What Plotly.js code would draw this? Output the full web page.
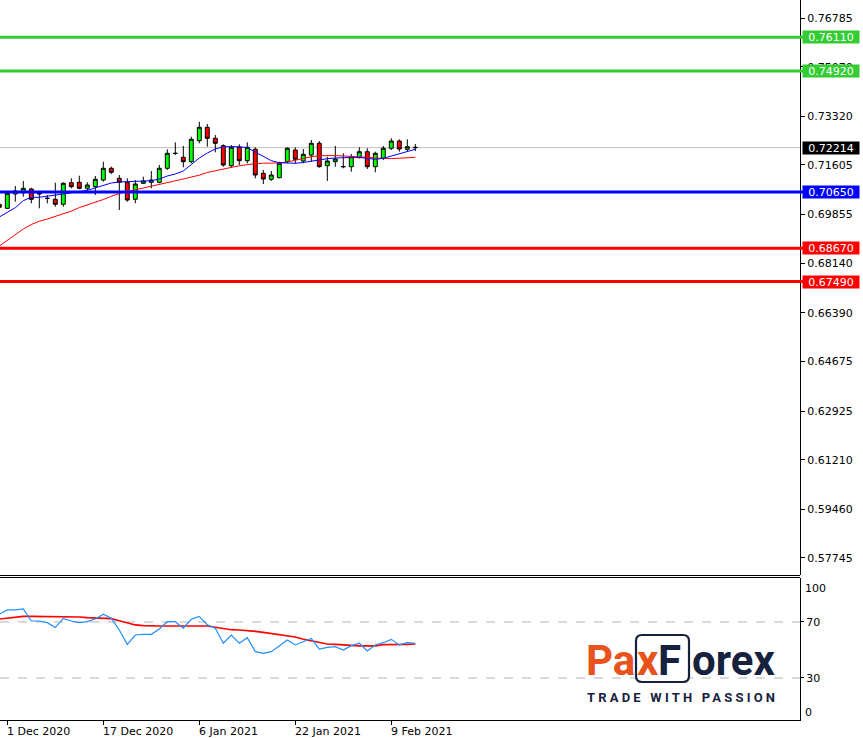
<!DOCTYPE html>
<html><head><meta charset="utf-8">
<script src="https://cdn.plot.ly/plotly-3.0.1.min.js"></script>
<style>html,body{margin:0;padding:0;background:#fff;overflow:hidden}#chart{width:863px;height:738px}</style>
</head><body><div id="chart"></div>
<script>
// ---------- DATA ----------
const dates = ["30 Nov 2020","1 Dec 2020","2 Dec 2020","3 Dec 2020","4 Dec 2020","7 Dec 2020","8 Dec 2020","9 Dec 2020","10 Dec 2020","11 Dec 2020","14 Dec 2020","15 Dec 2020","16 Dec 2020","17 Dec 2020","18 Dec 2020","21 Dec 2020","22 Dec 2020","23 Dec 2020","24 Dec 2020","28 Dec 2020","29 Dec 2020","30 Dec 2020","31 Dec 2020","4 Jan 2021","5 Jan 2021","6 Jan 2021","7 Jan 2021","8 Jan 2021","11 Jan 2021","12 Jan 2021","13 Jan 2021","14 Jan 2021","15 Jan 2021","18 Jan 2021","19 Jan 2021","20 Jan 2021","21 Jan 2021","22 Jan 2021","25 Jan 2021","26 Jan 2021","27 Jan 2021","28 Jan 2021","29 Jan 2021","1 Feb 2021","2 Feb 2021","3 Feb 2021","4 Feb 2021","5 Feb 2021","8 Feb 2021","9 Feb 2021","10 Feb 2021","11 Feb 2021","12 Feb 2021"];
const openP = [0.70216,0.70075,0.70579,0.70625,0.70756,0.70579,0.70421,0.70392,0.70216,0.70978,0.70992,0.70780,0.70837,0.71073,0.71486,0.71133,0.70992,0.70392,0.70957,0.70992,0.70992,0.71486,0.72007,0.71873,0.71718,0.72459,0.72931,0.72543,0.72283,0.71577,0.72226,0.71754,0.72156,0.71309,0.71098,0.71154,0.71718,0.72131,0.71743,0.71955,0.72367,0.71577,0.71718,0.71549,0.71542,0.71859,0.72071,0.71542,0.71838,0.72191,0.72448,0.72156,0.72226];
const highP = [0.70368,0.70685,0.70861,0.71038,0.70802,0.70639,0.70544,0.70978,0.70992,0.71133,0.71225,0.70992,0.71214,0.71718,0.71542,0.71249,0.71133,0.71073,0.71189,0.71390,0.71602,0.72156,0.72402,0.72272,0.72600,0.73129,0.73048,0.72660,0.72332,0.72307,0.72332,0.72402,0.72226,0.71426,0.71390,0.71718,0.72226,0.72226,0.72166,0.72483,0.72448,0.71895,0.72272,0.72015,0.71990,0.72226,0.72191,0.72071,0.72272,0.72543,0.72508,0.72508,0.72342];
const lowP = [0.70015,0.70050,0.70308,0.70484,0.70251,0.70075,0.70251,0.70132,0.70132,0.70780,0.70745,0.70696,0.70544,0.71013,0.71285,0.70015,0.70308,0.70251,0.70932,0.70780,0.70957,0.71426,0.71955,0.71521,0.71662,0.72367,0.72247,0.72050,0.71542,0.71507,0.71602,0.71662,0.71133,0.70932,0.71038,0.71133,0.71662,0.71662,0.71662,0.71718,0.71507,0.71038,0.71542,0.71486,0.71366,0.71838,0.71461,0.71345,0.71778,0.72131,0.72071,0.72096,0.72096];
const closeP = [0.70110,0.70604,0.70685,0.70780,0.70392,0.70597,0.70428,0.70216,0.70957,0.70837,0.70780,0.70897,0.71098,0.71486,0.71345,0.70992,0.70368,0.70932,0.71038,0.71073,0.71486,0.72015,0.72015,0.71718,0.72508,0.72931,0.72543,0.72367,0.71602,0.72226,0.71754,0.72226,0.71249,0.71108,0.71249,0.71662,0.72191,0.71803,0.71979,0.72367,0.71542,0.71743,0.71813,0.71542,0.71895,0.72071,0.71542,0.72015,0.72191,0.72448,0.72166,0.72247,0.72214];
const maFast = [0.69768,0.69934,0.70096,0.70343,0.70463,0.70463,0.70498,0.70544,0.70590,0.70615,0.70660,0.70710,0.70802,0.70897,0.70967,0.71003,0.71013,0.71013,0.71013,0.71048,0.71108,0.71214,0.71285,0.71390,0.71620,0.71849,0.72025,0.72166,0.72247,0.72247,0.72247,0.72212,0.72060,0.71895,0.71754,0.71683,0.71683,0.71662,0.71690,0.71743,0.71778,0.71824,0.71849,0.71863,0.71873,0.71873,0.71835,0.71803,0.71838,0.71919,0.72011,0.72082,0.72156];
const maSlow = [0.68746,0.68947,0.69155,0.69345,0.69504,0.69620,0.69698,0.69786,0.69874,0.69976,0.70100,0.70192,0.70287,0.70385,0.70498,0.70597,0.70664,0.70724,0.70784,0.70847,0.70914,0.70988,0.71045,0.71108,0.71179,0.71242,0.71338,0.71390,0.71454,0.71517,0.71574,0.71623,0.71651,0.71665,0.71672,0.71672,0.71708,0.71778,0.71831,0.71895,0.71933,0.71944,0.71933,0.71919,0.71909,0.71895,0.71873,0.71849,0.71831,0.71828,0.71842,0.71856,0.71873];
const rsi = [75.5,78.6,78.6,79.3,70.7,70.7,69.5,66.0,72.6,70.7,69.5,70.2,72.1,75.5,72.6,64.3,54.0,60.7,61.2,61.2,65.0,70.2,70.2,65.5,71.9,74.0,67.9,65.5,54.8,60.7,54.8,58.8,48.8,47.6,48.8,52.9,57.1,53.6,56.0,58.3,50.7,51.9,52.4,50.0,53.1,54.8,49.3,53.6,55.2,57.6,53.6,55.2,54.8];
const rsiSignal = [72.1,72.9,73.6,74.0,74.0,74.0,74.0,73.6,74.0,74.0,73.6,73.1,72.9,72.9,72.4,70.9,69.5,67.9,67.4,67.1,67.1,67.1,67.1,67.1,67.1,67.1,67.1,66.2,65.2,64.5,64.3,64.0,63.3,62.6,61.7,61.0,60.0,59.3,57.6,56.4,55.2,54.3,54.0,53.6,52.9,52.9,52.9,52.9,53.8,53.8,53.6,54.0,54.3];
const priceTicks = [0.76785,0.75070,0.73320,0.71605,0.69855,0.68140,0.66390,0.64675,0.62925,0.61210,0.59460,0.57745];
const levels = [0.76110,0.74920,0.70650,0.68670,0.67490];
const levelColors = ["#33cc33","#33cc33","#0000ff","#ff0000","#ff0000"];
const lastPrice = 0.72214;
const dateTickVals = ["1 Dec 2020","17 Dec 2020","6 Jan 2021","22 Jan 2021","9 Feb 2021"];
const oscTicks = [30,70];
const oscEdgeLabels = ["100","0"];

// ---------- LAYOUT HELPERS ----------
const W = 863, H = 738;
const fx = p => p / W;
const fy = p => 1 - p / H;
const plotRight = 800;
const FONT = "DejaVu Sans";
const NAVY = "#16213e", ORANGE = "#e8521c";

const traces = [
  {type:"candlestick", x:dates, open:openP, high:highP, low:lowP, close:closeP,
   xaxis:"x", yaxis:"y", whiskerwidth:0, hoverinfo:"skip", showlegend:false,
   increasing:{line:{color:"#000",width:1}, fillcolor:"#00ff00"},
   decreasing:{line:{color:"#000",width:1}, fillcolor:"#ff0000"}},
  {type:"scatter", mode:"lines", x:dates, y:maSlow, xaxis:"x", yaxis:"y",
   line:{color:"#ff0000", width:1}, hoverinfo:"skip", showlegend:false},
  {type:"scatter", mode:"lines", x:dates, y:maFast, xaxis:"x", yaxis:"y",
   line:{color:"#0000ff", width:1}, hoverinfo:"skip", showlegend:false},
  {type:"scatter", mode:"lines", x:dates, y:rsiSignal, xaxis:"x2", yaxis:"y2",
   line:{color:"#ff0000", width:1.6}, hoverinfo:"skip", showlegend:false},
  {type:"scatter", mode:"lines", x:dates, y:rsi, xaxis:"x2", yaxis:"y2",
   line:{color:"#1e90ff", width:1.2}, hoverinfo:"skip", showlegend:false}
];

const shapes = [];
const annotations = [];

// current price line
shapes.push({type:"line", xref:"paper", yref:"y", x0:0, x1:fx(plotRight), y0:lastPrice, y1:lastPrice,
  line:{color:"#c0c0c0", width:1}, layer:"below"});
// level lines + labels
levels.forEach((v,i)=>{
  shapes.push({type:"line", xref:"paper", yref:"y", x0:0, x1:fx(803), y0:v, y1:v,
    line:{color:levelColors[i], width:3}});
  annotations.push({xref:"paper", yref:"y", x:fx(802), y:v, xanchor:"left", yanchor:"middle",
    text:v.toFixed(5), showarrow:false, bgcolor:levelColors[i], width:56, height:12, borderpad:0,
    font:{family:FONT, size:11, color:"#fff"}});
});
annotations.push({xref:"paper", yref:"y", x:fx(802), y:lastPrice, xanchor:"left", yanchor:"middle",
  text:lastPrice.toFixed(5), showarrow:false, bgcolor:"#000", width:56, height:12, borderpad:0,
  font:{family:FONT, size:11, color:"#fff"}});

// separator double line
[575.5, 577.5].forEach(py=>{
  shapes.push({type:"line", xref:"paper", yref:"paper", x0:0, x1:fx(plotRight), y0:fy(py), y1:fy(py),
    line:{color:"#000", width:1}});
});
// oscillator dashed levels
oscTicks.forEach(v=>{
  shapes.push({type:"line", xref:"paper", yref:"y2", x0:0, x1:fx(plotRight), y0:v, y1:v,
    line:{color:"#b4b4b4", width:1, dash:"dash"}, layer:"below"});
});
// oscillator edge labels (100 / 0)
annotations.push({xref:"paper", yref:"paper", x:fx(803), y:fy(588), xanchor:"left", yanchor:"middle",
  text:oscEdgeLabels[0], showarrow:false, font:{family:FONT, size:11, color:"#000"}});
annotations.push({xref:"paper", yref:"paper", x:fx(803), y:fy(712), xanchor:"left", yanchor:"middle",
  text:oscEdgeLabels[1], showarrow:false, font:{family:FONT, size:11, color:"#000"}});
// date labels
dateTickVals.forEach(d=>{
  annotations.push({xref:"x2", yref:"paper", x:d, y:fy(731), xanchor:"left", yanchor:"middle",
    xshift:-2, text:d, showarrow:false, font:{family:FONT, size:11, color:"#000"}});
});

// logo
const rx0=636, rx1=689, ry0=635, ry1=682, r=6;
shapes.push({type:"path", xref:"paper", yref:"paper",
  path:`M ${fx(rx0+r)} ${fy(ry0)} L ${fx(rx1-r)} ${fy(ry0)} Q ${fx(rx1)} ${fy(ry0)} ${fx(rx1)} ${fy(ry0+r)} L ${fx(rx1)} ${fy(ry1-r)} Q ${fx(rx1)} ${fy(ry1)} ${fx(rx1-r)} ${fy(ry1)} L ${fx(rx0+r)} ${fy(ry1)} Q ${fx(rx0)} ${fy(ry1)} ${fx(rx0)} ${fy(ry1-r)} L ${fx(rx0)} ${fy(ry0+r)} Q ${fx(rx0)} ${fy(ry0)} ${fx(rx0+r)} ${fy(ry0)} Z`,
  line:{color:NAVY, width:2.2}, fillcolor:"#fff", layer:"above"});
const logoFont = {family:"Roboto", size:42, weight:700};
annotations.push({xref:"paper", yref:"paper", x:fx(584), y:fy(660), xanchor:"left", yanchor:"middle",
  text:"<b>Pa</b>", showarrow:false, font:Object.assign({color:ORANGE}, logoFont)});
annotations.push({xref:"paper", yref:"paper", x:fx(648), y:fy(660), xanchor:"center", yanchor:"middle",
  text:"<b>x</b>", showarrow:false, font:Object.assign({color:ORANGE}, logoFont)});
annotations.push({xref:"paper", yref:"paper", x:fx(669), y:fy(660), xanchor:"center", yanchor:"middle",
  text:"<b>F</b>", showarrow:false, font:Object.assign({color:NAVY}, logoFont)});
annotations.push({xref:"paper", yref:"paper", x:fx(690), y:fy(660), xanchor:"left", yanchor:"middle",
  text:"<b>orex</b>", showarrow:false, font:Object.assign({color:NAVY}, logoFont)});
annotations.push({xref:"paper", yref:"paper", x:fx(585), y:fy(697), xanchor:"left", yanchor:"middle",
  text:'<b><span style="letter-spacing:3.2px">TRADE WITH PASSION</span></b>', showarrow:false,
  font:{family:"Roboto", size:13, color:NAVY}});

const layout = {
  width:W, height:H, margin:{l:0,r:0,t:0,b:0}, paper_bgcolor:"#fff", plot_bgcolor:"#fff",
  showlegend:false, dragmode:false,
  xaxis:{type:"category", domain:[0, fx(plotRight)], anchor:"y", range:[0.0875, 100.0875],
    showticklabels:false, ticks:"", showgrid:false, zeroline:false, showline:false,
    rangeslider:{visible:false}, fixedrange:true},
  yaxis:{domain:[fy(575), 1], anchor:"x", side:"right", range:[0.57145, 0.77420],
    tickvals:priceTicks, tickformat:".5f", ticks:"outside", ticklen:4, tickcolor:"#000",
    showline:true, linecolor:"#000", linewidth:1, showgrid:false, zeroline:false,
    tickfont:{family:FONT, size:11, color:"#000"}, fixedrange:true},
  xaxis2:{type:"category", domain:[0, fx(plotRight)], anchor:"y2", matches:"x",
    tickvals:dateTickVals, showticklabels:false, ticks:"outside", ticklen:4, tickcolor:"#000",
    showline:true, linecolor:"#000", linewidth:1, showgrid:false, zeroline:false, fixedrange:true},
  yaxis2:{domain:[fy(720), fy(578)], anchor:"x2", side:"right", range:[0, 101.4],
    tickvals:oscTicks, ticks:"outside", ticklen:3, tickcolor:"#000",
    showline:true, linecolor:"#000", linewidth:1, showgrid:false, zeroline:false,
    tickfont:{family:FONT, size:11, color:"#000"}, fixedrange:true},
  shapes:shapes, annotations:annotations
};
Plotly.newPlot("chart", traces, layout, {displayModeBar:false, staticPlot:true});
</script></body></html>
